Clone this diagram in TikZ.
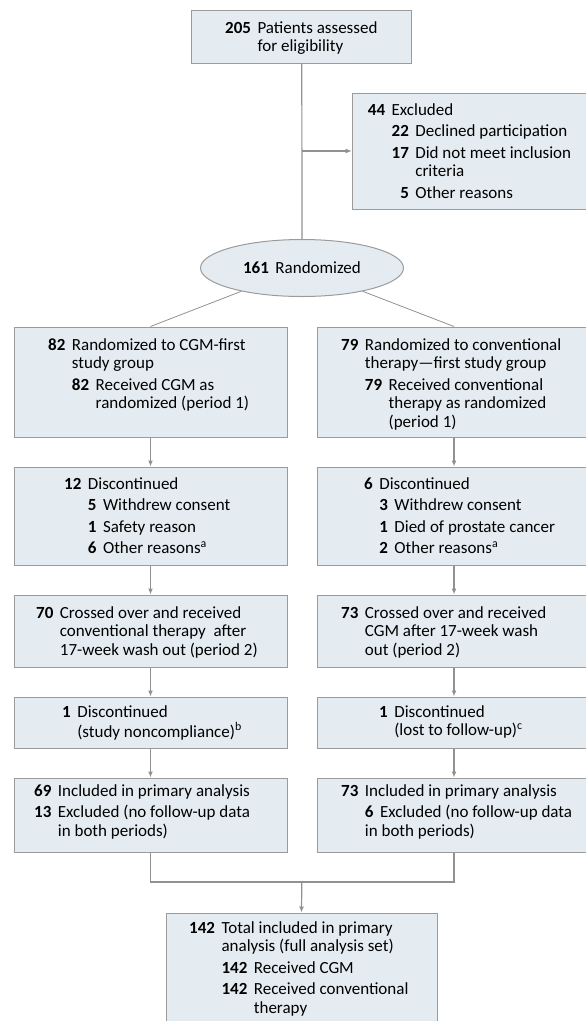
\documentclass[tikz,border=0pt]{standalone}
\usepackage{fontspec}
\setmainfont{Carlito}
\usepackage{tikz}
\usetikzlibrary{arrows.meta,shapes.geometric}
\usepackage{xcolor}
\definecolor{boxfill}{RGB}{228,236,241}
\definecolor{boxline}{RGB}{155,155,155}
\definecolor{flowline}{RGB}{145,145,145}

\newlength{\nsep}\setlength{\nsep}{6.5pt}
\newcommand{\igap}{3pt}
\newenvironment{flowtab}{\begin{tabular}[t]{@{}r@{\hspace{\nsep}}r@{\hspace{\nsep}}l@{}}}{\end{tabular}}
\newcommand{\one}[2]{\textbf{#1} & \multicolumn{2}{@{}l@{}}{#2}}
\newcommand{\two}[2]{& \textbf{#1} & #2}
\newcommand{\cont}[1]{& \multicolumn{2}{@{}l@{}}{#1}}
\newcommand{\conttwo}[1]{& & #1}

\begin{document}
\begin{tikzpicture}[x=1pt,y=-1pt,
    box/.style={draw=boxline, line width=1pt, fill=boxfill, rectangle, inner sep=0pt},
    txt/.style={inner sep=0pt, anchor=base west, font=\fontsize{17}{18.5}\selectfont},
    line/.style={draw=flowline, line width=1.2pt},
    arr/.style={line, -{Latex[length=6pt,width=5pt]}}]
    \useasboundingbox (0,0) rectangle (586,1021);
    \clip (0,0) rectangle (586,1021);

    % screening
    \node[box, minimum width=220pt, minimum height=53pt] (top) at (301.8,36.5) {};
    \node[txt] (toptxt) at (225,33) {\begin{flowtab}
        \one{205}{Patients assessed}\\
        \cont{for eligibility}
    \end{flowtab}};
    \node[box, minimum width=268pt, minimum height=116pt] (excl) at (486.2,151) {};
    \node[txt] (excltxt) at (367.7,115) {\begin{flowtab}
        \one{44}{Excluded}\\[\igap]
        \two{22}{Declined participation}\\[\igap]
        \two{17}{Did not meet inclusion}\\
        \conttwo{criteria}\\[\igap]
        \two{5}{Other reasons}
    \end{flowtab}};
    \node[ellipse, draw=boxline, line width=1pt, fill=boxfill, minimum width=203pt, minimum height=57pt,
        inner sep=0pt, font=\fontsize{17}{18.5}\selectfont] (rand) at (302,268) {\textbf{161}\hspace{\nsep}Randomized};

    % period 1
    \node[box, minimum width=273pt, minimum height=110pt] (a1) at (150.5,382) {};
    \node[txt] (a1txt) at (48,350) {\begin{flowtab}
        \one{82}{Randomized to CGM-first}\\
        \cont{study group}\\[\igap]
        \two{82}{Received CGM as}\\
        \conttwo{randomized (period 1)}
    \end{flowtab}};
    \node[box, minimum width=274pt, minimum height=110pt] (b1) at (454,382) {};
    \node[txt] (b1txt) at (341,350) {\begin{flowtab}
        \one{79}{Randomized to conventional}\\
        \cont{therapy—first study group}\\[\igap]
        \two{79}{Received conventional}\\
        \conttwo{therapy as randomized}\\
        \conttwo{(period 1)}
    \end{flowtab}};

    % discontinued in period 1
    \node[box, minimum width=273pt, minimum height=98pt] (a2) at (150.5,516) {};
    \node[txt] (a2txt) at (64,489) {\begin{flowtab}
        \one{12}{Discontinued}\\[\igap]
        \two{5}{Withdrew consent}\\[\igap]
        \two{1}{Safety reason}\\[\igap]
        \two{6}{Other reasons\textsuperscript{a}}
    \end{flowtab}};
    \node[box, minimum width=274pt, minimum height=98pt] (b2) at (454,516) {};
    \node[txt] (b2txt) at (364,489) {\begin{flowtab}
        \one{6}{Discontinued}\\[\igap]
        \two{3}{Withdrew consent}\\[\igap]
        \two{1}{Died of prostate cancer}\\[\igap]
        \two{2}{Other reasons\textsuperscript{a}}
    \end{flowtab}};

    % crossover, period 2
    \node[box, minimum width=273pt, minimum height=72pt] (a3) at (150.5,631) {};
    \node[txt] (a3txt) at (36,618) {\begin{flowtab}
        \one{70}{Crossed over and received}\\
        \cont{conventional therapy~ after}\\
        \cont{17-week wash out (period 2)}
    \end{flowtab}};
    \node[box, minimum width=274pt, minimum height=72pt] (b3) at (454,631) {};
    \node[txt] (b3txt) at (341,618) {\begin{flowtab}
        \one{73}{Crossed over and received}\\
        \cont{CGM after 17-week wash}\\
        \cont{out (period 2)}
    \end{flowtab}};

    % discontinued in period 2
    \node[box, minimum width=273pt, minimum height=51pt] (a4) at (150.5,722.5) {};
    \node[txt] (a4txt) at (62,717) {\begin{flowtab}
        \one{1}{Discontinued}\\
        \cont{(study noncompliance)\textsuperscript{b}}
    \end{flowtab}};
    \node[box, minimum width=274pt, minimum height=51pt] (b4) at (454,722.5) {};
    \node[txt] (b4txt) at (379,717) {\begin{flowtab}
        \one{1}{Discontinued}\\
        \cont{(lost to follow-up)\textsuperscript{c}}
    \end{flowtab}};

    % analysed
    \node[box, minimum width=273pt, minimum height=74pt] (a5) at (150.5,815) {};
    \node[txt] (a5txt) at (34,796) {\begin{flowtab}
        \one{69}{Included in primary analysis}\\[\igap]
        \one{13}{Excluded (no follow-up data}\\
        \cont{in both periods)}
    \end{flowtab}};
    \node[box, minimum width=274pt, minimum height=74pt] (b5) at (454,815) {};
    \node[txt] (b5txt) at (341,796) {\begin{flowtab}
        \one{73}{Included in primary analysis}\\[\igap]
        \two{6}{Excluded (no follow-up data}\\
        \cont{in both periods)}
    \end{flowtab}};

    % total
    \node[box, minimum width=271pt, minimum height=127pt] (tot) at (301.5,976.5) {};
    \node[txt] (tottxt) at (189,933) {\begin{flowtab}
        \one{142}{Total included in primary}\\
        \cont{analysis (full analysis set)}\\[\igap]
        \two{142}{Received CGM}\\[\igap]
        \two{142}{Received conventional}\\
        \conttwo{therapy}
    \end{flowtab}};

    % connectors
    \coordinate (br) at (301.8,151);
    \coordinate (join) at (301.8,882);
    \draw[line] (top.south) -- (rand.north);
    \draw[arr] (br) -- (br -| excl.west);
    \draw[line, line width=0.8pt] (rand.201) -- (a1.north);
    \draw[line, line width=0.8pt] (rand.339) -- (b1.north);
    \foreach \u/\v in {a1/a2, a2/a3, a3/a4, a4/a5, b1/b2, b2/b3, b3/b4, b4/b5}
        \draw[arr] (\u.south) -- (\v.north);
    \draw[line] (a5.south) |- (join) -| (b5.south);
    \draw[arr] (join) -- (tot.north);
\end{tikzpicture}
\end{document}
